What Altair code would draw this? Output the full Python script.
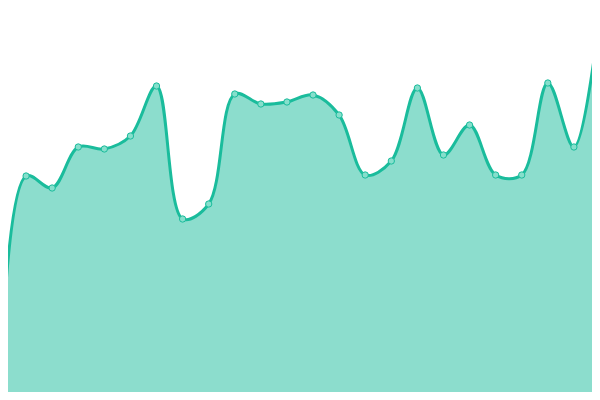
import altair as alt
import pandas as pd

idx = list(range(24))
values = [4, 224, 212, 253, 251, 264, 314, 181, 196, 306, 296, 298, 305, 285,
          225, 239, 312, 245, 275, 225, 225, 317, 253, 387]

df = pd.DataFrame({"i": idx, "v": values})

# plot area sits inside the page's 8px margin; scales map the data to window pixels
step = 600 / 23.0
x = alt.X("i:Q", axis=None,
          scale=alt.Scale(domain=[8 / step, 592 / step], nice=False, zero=False))
y = alt.Y("v:Q", axis=None, scale=alt.Scale(domain=[8, 392], nice=False, zero=False))

base = alt.Chart(df)
area = base.mark_area(interpolate="catmull-rom", color="#1abc9c", opacity=0.5,
                      clip=True).encode(x=x, y=y)
line = base.mark_line(interpolate="catmull-rom", color="#1abc9c", strokeWidth=3,
                      clip=True).encode(x=x, y=y)
pts = base.mark_point(filled=True, size=40, fill="#86dfcc", stroke="#1abc9c",
                      strokeWidth=1, opacity=1, clip=True).encode(x=x, y=y)

chart = (area + line + pts).properties(
    width=584, height=384, padding=0,
    autosize=alt.AutoSizeParams(type="none"),
).configure_view(stroke=None)

chart.save("out.html", embed_options={"renderer": "svg", "actions": False})
